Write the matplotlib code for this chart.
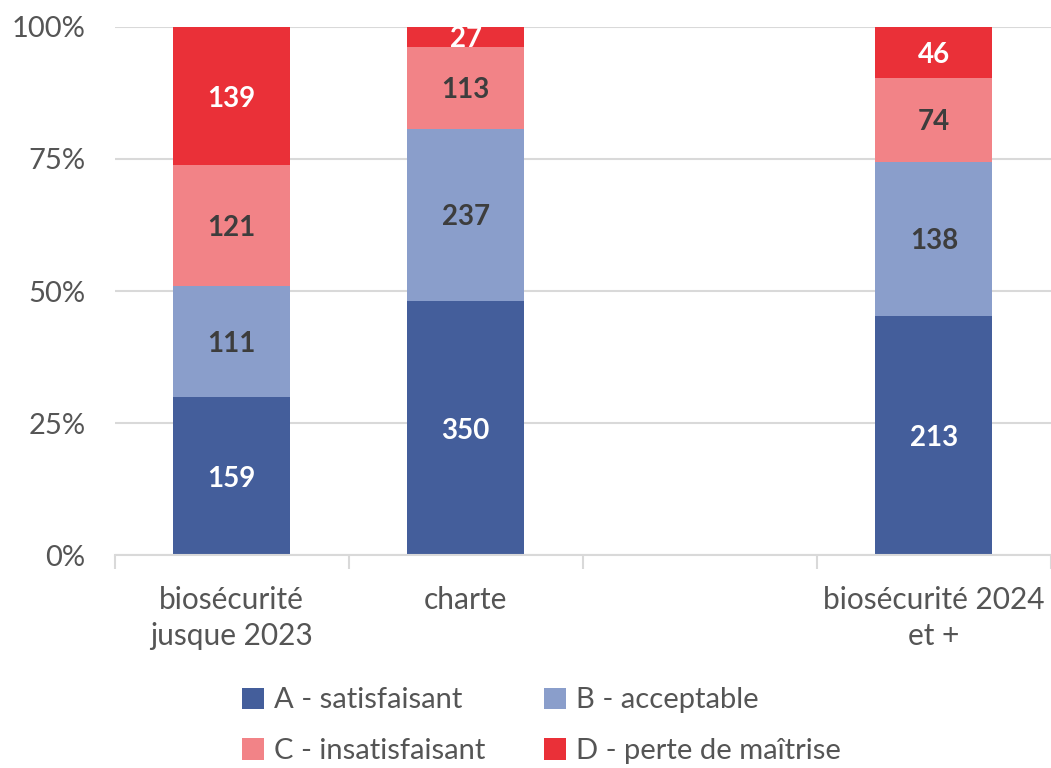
import matplotlib
matplotlib.use("Agg")
import matplotlib.pyplot as plt
import numpy as np

plt.rcParams['font.family'] = ['Lato', 'DejaVu Sans']

categories = ["biosécurité\njusque 2023", "charte", "", "biosécurité 2024\net +"]
series_names = ["A - satisfaisant", "B - acceptable", "C - insatisfaisant", "D - perte de maîtrise"]
A = [159, 350, 0, 213]
B = [111, 237, 0, 138]
C = [121, 113, 0, 74]
D = [139, 27, 0, 46]
colors = ["#445E9B", "#8A9ECB", "#F28387", "#EA3038"]
label_colors = ["white", "#3d3d3d", "#3d3d3d", "white"]

series = [A, B, C, D]
totals = np.array([sum(v) for v in zip(*series)], dtype=float)

fig = plt.figure(figsize=(10.51, 7.68), dpi=100)
ax = fig.add_axes([0.109, 0.277, 0.891, 0.688])

x = np.arange(len(categories))
bottom = np.zeros(len(categories))
handles = []
for vals, col, lc, name in zip(series, colors, label_colors, series_names):
    vals = np.array(vals, dtype=float)
    share = np.divide(vals, totals, out=np.zeros_like(vals), where=totals > 0)
    h = ax.bar(x, share, 0.5, bottom=bottom, color=col, label=name, zorder=2)
    handles.append(h)
    for xi, s, b, v in zip(x, share, bottom, vals):
        if v > 0:
            ax.text(xi, b + s / 2, f"{int(v)}", ha="center", va="center_baseline",
                    color=lc, fontsize=20, fontweight="bold", zorder=3)
    bottom += share

ax.set_xlim(-0.5, len(categories) - 0.5)
ax.set_ylim(0, 1)
ax.set_yticks([0, 0.25, 0.5, 0.75, 1.0])
ax.set_yticklabels(["0%", "25%", "50%", "75%", "100%"])
ax.yaxis.grid(True, color="#d9d9d9", linewidth=1.5, zorder=0)
ax.set_axisbelow(True)
for s in ["top", "right", "left"]:
    ax.spines[s].set_visible(False)
ax.spines["bottom"].set_color("#d9d9d9")
ax.spines["bottom"].set_linewidth(1.5)
ax.tick_params(axis="y", length=0, labelsize=21, labelcolor="#555555", pad=21)

ax.set_xticks(np.arange(len(categories) + 1) - 0.5)
ax.set_xticklabels([])
ax.tick_params(axis="x", which="major", length=10, width=1.5, color="#d9d9d9")
ax.set_xticks(x, minor=True)
ax.set_xticklabels(categories, minor=True)
ax.tick_params(axis="x", which="minor", length=0, labelsize=21.5, labelcolor="#555555", pad=22)
for lbl in ax.get_xticklabels(minor=True):
    lbl.set_linespacing(1.35)

order = [0, 2, 1, 3]
leg = fig.legend([handles[i] for i in order], [series_names[i] for i in order],
                 loc="center", bbox_to_anchor=(0.515, 0.055), ncol=2, frameon=False,
                 fontsize=21, handlelength=0.75, handleheight=0.75, handletextpad=0.35,
                 columnspacing=2.0, labelspacing=0.85, labelcolor="#555555")

fig.savefig("out.png", dpi=100)
